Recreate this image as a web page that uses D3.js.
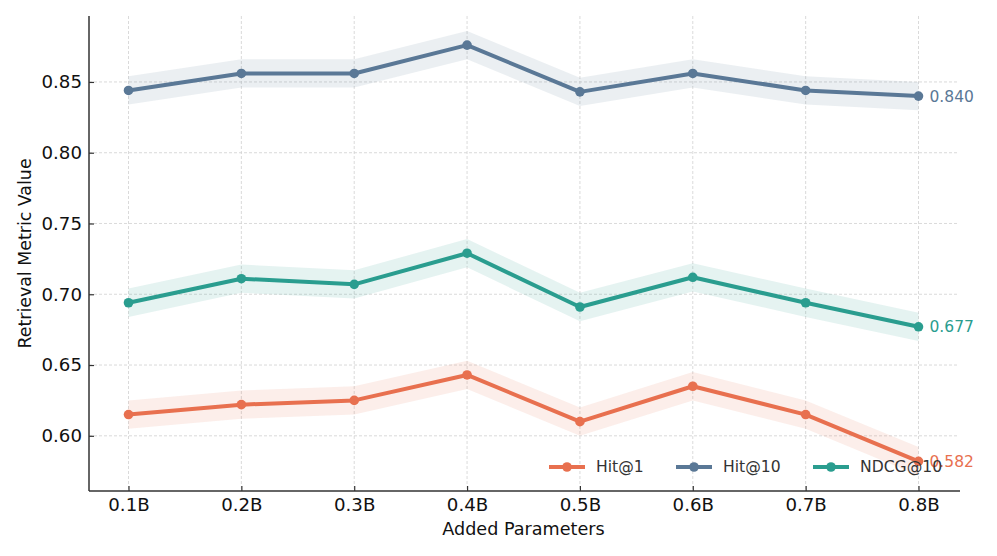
<!DOCTYPE html>
<html>
<head>
<meta charset="utf-8">
<script src="https://cdn.jsdelivr.net/npm/d3@7"></script>
<style>
  body { margin: 0; background: #fff; }
  svg { font-family: "DejaVu Sans", sans-serif; }
</style>
</head>
<body>
<svg id="chart" width="997" height="556"></svg>
<script>
const params = ['0.1B', '0.2B', '0.3B', '0.4B', '0.5B', '0.6B', '0.7B', '0.8B'];
const hit1 = [0.615, 0.622, 0.625, 0.643, 0.610, 0.635, 0.615, 0.582];
const hit10 = [0.844, 0.856, 0.856, 0.876, 0.843, 0.856, 0.844, 0.840];
const ndcg10 = [0.694, 0.711, 0.707, 0.729, 0.691, 0.712, 0.694, 0.677];
const band = 0.01;
const yTicks = [0.60, 0.65, 0.70, 0.75, 0.80, 0.85];

const series = [
  { name: 'Hit@1', values: hit1, color: '#e8704f' },
  { name: 'Hit@10', values: hit10, color: '#5a7896' },
  { name: 'NDCG@10', values: ndcg10, color: '#2a9d8f' }
];

const mLeft = 89, mRight = 958, mTop = 16, mBottom = 491;
const svg = d3.select('#chart');

const x = d3.scaleLinear().domain([-0.35, 7.35]).range([mLeft, mRight]);
const y = d3.scaleLinear().domain([0.561, 0.8966]).range([mBottom, mTop]);

// grid
const grid = svg.append('g');
grid.selectAll('line.v')
  .data(params)
  .enter().append('line')
  .attr('x1', (d, i) => x(i)).attr('x2', (d, i) => x(i))
  .attr('y1', mTop).attr('y2', mBottom)
  .attr('stroke', '#d0d0d0').attr('stroke-width', 0.8)
  .attr('stroke-dasharray', '3,2');
grid.selectAll('line.h')
  .data(yTicks)
  .enter().append('line')
  .attr('x1', mLeft).attr('x2', mRight)
  .attr('y1', d => y(d)).attr('y2', d => y(d))
  .attr('stroke', '#d0d0d0').attr('stroke-width', 0.8)
  .attr('stroke-dasharray', '3,2');

// bands
const area = d3.area()
  .x((d, i) => x(i))
  .y0(d => y(d - band))
  .y1(d => y(d + band));

const line = d3.line()
  .x((d, i) => x(i))
  .y(d => y(d));

series.forEach(s => {
  svg.append('path')
    .attr('d', area(s.values))
    .attr('fill', s.color)
    .attr('fill-opacity', 0.12);
});

series.forEach(s => {
  svg.append('path')
    .attr('d', line(s.values))
    .attr('fill', 'none')
    .attr('stroke', s.color)
    .attr('stroke-width', 4)
    .attr('stroke-linejoin', 'round');
  svg.selectAll(null)
    .data(s.values)
    .enter().append('circle')
    .attr('cx', (d, i) => x(i))
    .attr('cy', d => y(d))
    .attr('r', 4.8)
    .attr('fill', s.color);
  const last = s.values.length - 1;
  svg.append('text')
    .attr('x', x(last) + 11)
    .attr('y', y(s.values[last]))
    .attr('dy', '0.35em')
    .attr('font-size', 15.5)
    .attr('fill', s.color)
    .text(s.values[last].toFixed(3));
});

// axes
const xAxis = d3.axisBottom(x)
  .tickValues(d3.range(params.length))
  .tickFormat(i => params[i])
  .tickSizeInner(-5).tickSizeOuter(0).tickPadding(7);
const gx = svg.append('g').attr('transform', `translate(0,${mBottom})`).call(xAxis);

const yAxis = d3.axisLeft(y)
  .tickValues(yTicks)
  .tickFormat(d3.format('.2f'))
  .tickSizeInner(-5).tickSizeOuter(0).tickPadding(7);
const gy = svg.append('g').attr('transform', `translate(${mLeft},0)`).call(yAxis);

[gx, gy].forEach(g => {
  g.select('.domain').attr('stroke', '#333').attr('stroke-width', 1.5);
  g.selectAll('.tick line').attr('stroke', '#333').attr('stroke-width', 1.2);
  g.selectAll('.tick text').attr('font-size', 18.2).attr('fill', '#111')
    .attr('font-family', '"DejaVu Sans", sans-serif');
});
gx.select('.domain').attr('d', `M${mLeft},0H${mRight + 2}`);
gy.select('.domain').attr('d', `M0,${mBottom}V${mTop}`);

svg.append('text')
  .attr('x', (mLeft + mRight) / 2)
  .attr('y', 535)
  .attr('text-anchor', 'middle')
  .attr('font-size', 17.6)
  .attr('fill', '#111')
  .text('Added Parameters');

svg.append('text')
  .attr('transform', `translate(31,${(mTop + mBottom) / 2}) rotate(-90)`)
  .attr('text-anchor', 'middle')
  .attr('font-size', 17.4)
  .attr('fill', '#111')
  .text('Retrieval Metric Value');

// legend
const legendX = [549, 676, 813];
const lg = svg.append('g');
series.forEach((s, i) => {
  const g = lg.append('g').attr('transform', `translate(${legendX[i]},467)`);
  g.append('line').attr('x1', 0).attr('x2', 36).attr('y1', 0).attr('y2', 0)
    .attr('stroke', s.color).attr('stroke-width', 4);
  g.append('circle').attr('cx', 18).attr('cy', 0).attr('r', 4.8).attr('fill', s.color);
  g.append('text').attr('x', 47).attr('y', 0).attr('dy', '0.35em')
    .attr('font-size', 15.6).attr('fill', '#333').text(s.name);
});
</script>
</body>
</html>
